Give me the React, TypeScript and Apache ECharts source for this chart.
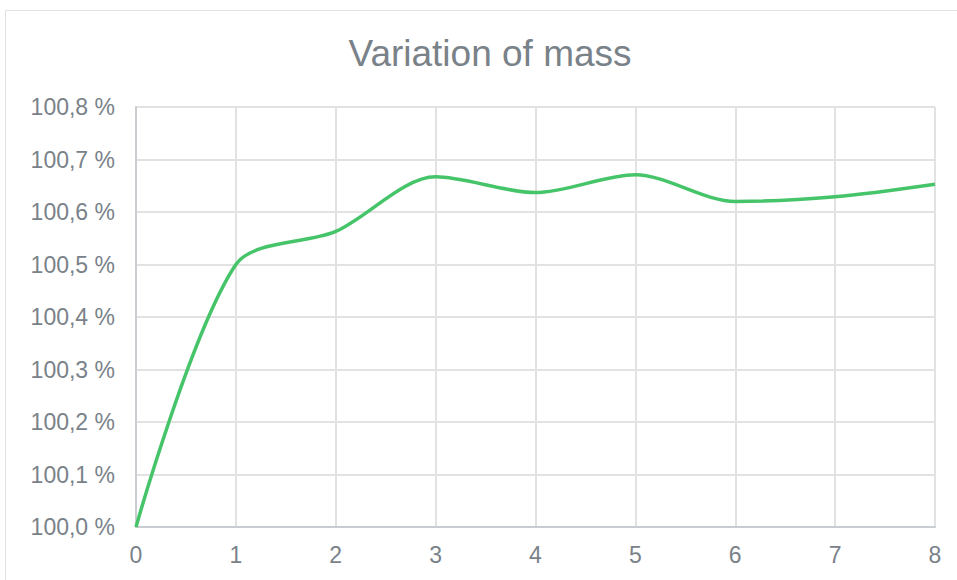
import React, { useEffect, useRef } from "react";
import * as echarts from "echarts";

const xValues = [0, 1, 2, 3, 4, 5, 6, 7, 8];
const massValues = [100.0, 100.5, 100.563, 100.667, 100.637, 100.671, 100.62, 100.629, 100.653];
const titleText = "Variation of mass";

export default function App() {
  const ref = useRef<HTMLDivElement>(null);
  useEffect(() => {
    document.body.style.margin = "0";
    const chart = echarts.init(ref.current!, null, { renderer: "svg" });
    const textColor = "#7a8289";
    chart.setOption({
      animation: false,
      backgroundColor: "#ffffff",
      title: {
        text: titleText,
        left: 485,
        top: 30,
        textAlign: "center",
        textStyle: {
          fontFamily: "Liberation Sans, Arial, sans-serif",
          fontSize: 37,
          fontWeight: "normal",
          color: textColor,
        },
      },
      graphic: [
        {
          type: "rect",
          shape: { x: 5.5, y: 10.5, width: 1000, height: 1000 },
          style: { fill: "none", stroke: "#e3e3e3", lineWidth: 1 },
          silent: true,
          z: -1,
        },
      ],
      grid: { left: 136, right: 22, top: 107, bottom: 53 },
      xAxis: {
        type: "value",
        min: 0,
        max: 8,
        interval: 1,
        axisLine: { show: true, lineStyle: { color: "#c9ccd0", width: 2 } },
        axisTick: { show: false },
        axisLabel: {
          color: textColor,
          fontSize: 23,
          fontFamily: "Liberation Sans, Arial, sans-serif",
          margin: 16,
        },
        splitLine: { show: true, lineStyle: { color: "#e2e2e2", width: 2 } },
      },
      yAxis: {
        type: "value",
        min: 100,
        max: 100.8,
        interval: 0.1,
        axisLine: { show: true, lineStyle: { color: "#c9ccd0", width: 2 } },
        axisTick: { show: false },
        axisLabel: {
          color: textColor,
          fontSize: 23,
          fontFamily: "Liberation Sans, Arial, sans-serif",
          margin: 21,
          formatter: (v: number) => v.toFixed(1).replace(".", ",") + " %",
        },
        splitLine: { show: true, lineStyle: { color: "#e2e2e2", width: 2 } },
      },
      series: [
        {
          type: "line",
          data: xValues.map((x, i) => [x, massValues[i]]),
          smooth: 0.3,
          showSymbol: false,
          lineStyle: { color: "#46c46a", width: 3.5 },
        },
      ],
    });
    return () => chart.dispose();
  }, []);
  return <div ref={ref} style={{ width: 957, height: 580 }} />;
}
